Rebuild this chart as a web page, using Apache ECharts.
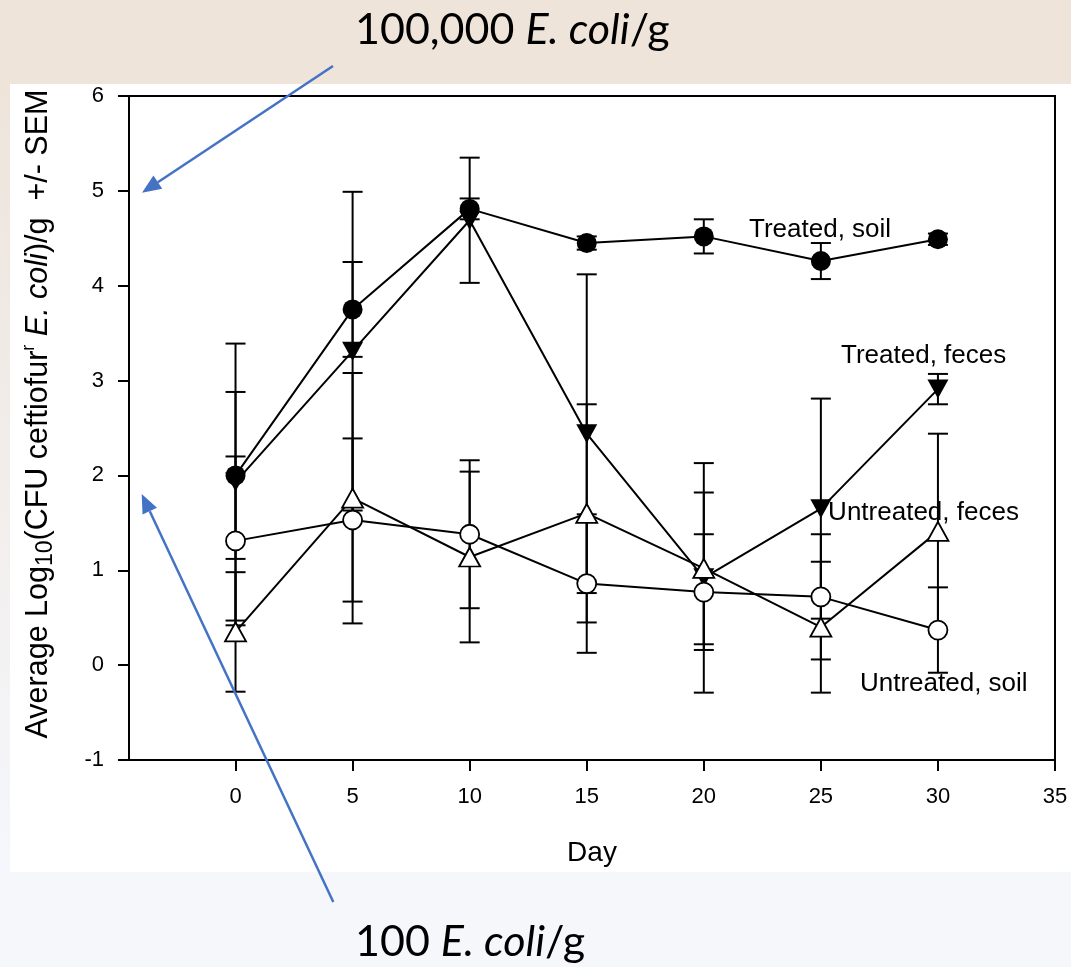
<!DOCTYPE html>
<html><head><meta charset="utf-8">
<script src="https://cdn.jsdelivr.net/npm/echarts@6/dist/echarts.min.js"></script>
<style>html,body{margin:0;padding:0;background:#fff}#c{width:1071px;height:967px}</style>
</head><body><div id="c"></div>
<script>
// ---- data ----
const days = [0, 5, 10, 15, 20, 25, 30];
const treatedSoil      = [2.00, 3.75, 4.81, 4.45, 4.52, 4.26, 4.49];
const treatedSoilSem   = [0.88, 0.50, 0.11, 0.07, 0.18, 0.19, 0.06];
const treatedFeces     = [1.93, 3.31, 4.69, 2.44, 0.92, 1.65, 2.91];
const treatedFecesSem  = [1.46, 1.68, 0.66, 1.68, 1.21, 1.16, 0.16];
const untreatedSoil    = [1.31, 1.53, 1.38, 0.86, 0.77, 0.72, 0.37];
const untreatedSoilSem = [0.89, 0.86, 0.78, 0.73, 0.61, 0.66, 0.45];
const untreatedFeces   = [0.35, 1.76, 1.14, 1.60, 1.02, 0.40, 1.41];
const untreatedFecesSem= [0.63, 1.32, 0.90, 1.15, 0.80, 0.69, 1.03];
const xTicks = [0, 5, 10, 15, 20, 25, 30, 35];
const seriesLabels = ['Treated, soil', 'Treated, feces', 'Untreated, feces', 'Untreated, soil'];
const labelAnchors = [[21.93, 4.59], [25.86, 3.26], [25.31, 1.61], [26.67, -0.20]];
const topNote = '100,000';
const bottomNote = '100';

const FONT = "'Liberation Sans', Arial, sans-serif";
const NOTE_FONT = "Lato, 'Open Sans', sans-serif";
const chart = echarts.init(document.getElementById('c'));

function errSeries(vals, sems) {
  return {
    type: 'custom', silent: true,
    data: days.map((d, i) => [d, vals[i], sems[i]]),
    renderItem(params, api) {
      const x = api.value(0), y = api.value(1), e = api.value(2);
      const t = api.coord([x, y + e]), b = api.coord([x, y - e]);
      const hw = 10, st = {stroke: '#000', lineWidth: 2};
      return {type: 'group', children: [
        {type: 'line', shape: {x1: t[0], y1: t[1], x2: b[0], y2: b[1]}, style: st},
        {type: 'line', shape: {x1: t[0] - hw, y1: t[1], x2: t[0] + hw, y2: t[1]}, style: st},
        {type: 'line', shape: {x1: b[0] - hw, y1: b[1], x2: b[0] + hw, y2: b[1]}, style: st}
      ]};
    }
  };
}
function lineSeries(name, vals, symbol, filled, rotate, size) {
  return {
    type: 'line', name, data: days.map((d, i) => [d, vals[i]]),
    symbol, symbolSize: size, symbolRotate: rotate, showAllSymbol: true,
    lineStyle: {color: '#000', width: 2},
    itemStyle: {color: filled ? '#000' : '#fff', borderColor: '#000', borderWidth: filled ? 0 : 1.8},
    emphasis: {disabled: true}, silent: true
  };
}

function arrow(id, x1, y1, x2, y2) {
  const dx = x2 - x1, dy = y2 - y1, L = Math.hypot(dx, dy);
  const ux = dx / L, uy = dy / L, hl = 19, hw = 8;
  const bx = x2 - ux * hl, by = y2 - uy * hl;
  return [
    {id: id + 'l', type: 'line', z: 100, shape: {x1, y1, x2: bx, y2: by}, style: {stroke: '#4472c4', lineWidth: 2.5}},
    {id: id + 'h', type: 'polygon', z: 100, shape: {points: [[x2, y2], [bx - uy * hw, by + ux * hw], [bx + uy * hw, by - ux * hw]]}, style: {fill: '#4472c4'}}
  ];
}

const noteRich = {
  n: {fontSize: 43, fontFamily: NOTE_FONT, fill: '#000'},
  i: {fontSize: 43, fontFamily: NOTE_FONT, fontStyle: 'italic', fill: '#000'}
};

const graphics = [
  {id: 'bgTop', type: 'rect', z: -100, shape: {x: 0, y: 0, width: 1071, height: 84}, style: {fill: '#eee4da'}},
  {id: 'bgLeft', type: 'rect', z: -100, shape: {x: 0, y: 84, width: 10, height: 788},
    style: {fill: new echarts.graphic.LinearGradient(0, 0, 0, 1, [{offset: 0, color: '#eee4da'}, {offset: 1, color: '#f5f7fc'}])}},
  {id: 'bgBot', type: 'rect', z: -100, shape: {x: 0, y: 872, width: 1071, height: 95}, style: {fill: '#f6f7fb'}},
  {id: 'noteTop', type: 'text', z: 100, style: {x: 355, y: 30, text: '{n|' + topNote + ' }{i|E. coli}{n|/g}', rich: noteRich,
    fontSize: 43, fontFamily: NOTE_FONT, align: 'left', verticalAlign: 'middle'}},
  {id: 'noteBot', type: 'text', z: 100, style: {x: 355, y: 942, text: '{n|' + bottomNote + ' }{i|E. coli}{n|/g}', rich: noteRich,
    fontSize: 43, fontFamily: NOTE_FONT, align: 'left', verticalAlign: 'middle'}},
  ...arrow('a1', 333, 66, 142, 192.7),
  ...arrow('a2', 333.3, 902, 141.7, 494)
];

chart.setOption({
  animation: false,
  grid: {left: 129, right: 16, top: 96, bottom: 207, show: true, borderColor: '#000', borderWidth: 2, backgroundColor: '#fff'},
  xAxis: {
    type: 'value', min: -4.55, max: 35,
    axisLine: {onZero: false, lineStyle: {color: '#000', width: 2}},
    axisTick: {customValues: xTicks, length: 11, lineStyle: {color: '#000', width: 2}},
    axisLabel: {customValues: xTicks, fontSize: 22, fontFamily: FONT, color: '#000', margin: 26},
    splitLine: {show: false},
    name: 'Day', nameLocation: 'middle', nameGap: 79,
    nameTextStyle: {fontSize: 28, fontFamily: FONT, color: '#000'}
  },
  yAxis: {
    type: 'value', min: -1, max: 6, interval: 1,
    axisLine: {show: true, onZero: false, lineStyle: {color: '#000', width: 2}},
    axisTick: {show: true, length: 11, lineStyle: {color: '#000', width: 2}},
    axisLabel: {fontSize: 22, fontFamily: FONT, color: '#000', margin: 25},
    splitLine: {show: false},
    name: 'Average Log{sub|10}(CFU ceftiofur{sup|r} {i|E. coli})/g  +/- SEM',
    nameLocation: 'middle', nameGap: 71, nameRotate: 90,
    nameTextStyle: {fontSize: 30.5, fontFamily: FONT, color: '#000', padding: [0, 0, 0, 28],
      rich: {
        sub: {fontSize: 23, fontFamily: FONT, color: '#000', padding: [14, 0, 0, 0]},
        sup: {fontSize: 18, fontFamily: FONT, color: '#000', padding: [0, 0, 20, 0]},
        i: {fontSize: 30.5, fontFamily: FONT, color: '#000', fontStyle: 'italic'}
      }}
  },
  series: [
    errSeries(treatedSoil, treatedSoilSem),
    lineSeries('Treated, soil', treatedSoil, 'circle', true, 0, 20),
    errSeries(treatedFeces, treatedFecesSem),
    lineSeries('Treated, feces', treatedFeces, 'triangle', true, 180, [21, 19]),
    errSeries(untreatedSoil, untreatedSoilSem),
    lineSeries('Untreated, soil', untreatedSoil, 'circle', false, 0, 19),
    errSeries(untreatedFeces, untreatedFecesSem),
    lineSeries('Untreated, feces', untreatedFeces, 'triangle', false, 0, [21, 19])
  ],
  graphic: graphics
});

const labelGraphics = seriesLabels.map((t, i) => {
  const p = chart.convertToPixel({gridIndex: 0}, labelAnchors[i]);
  return {id: 'lab' + i, type: 'text', z: 50,
    style: {x: p[0], y: p[1], text: t, fontSize: 26, fontFamily: FONT, fill: '#000', align: 'left', verticalAlign: 'middle'}};
});
chart.setOption({graphic: graphics.concat(labelGraphics)});
</script></body></html>
